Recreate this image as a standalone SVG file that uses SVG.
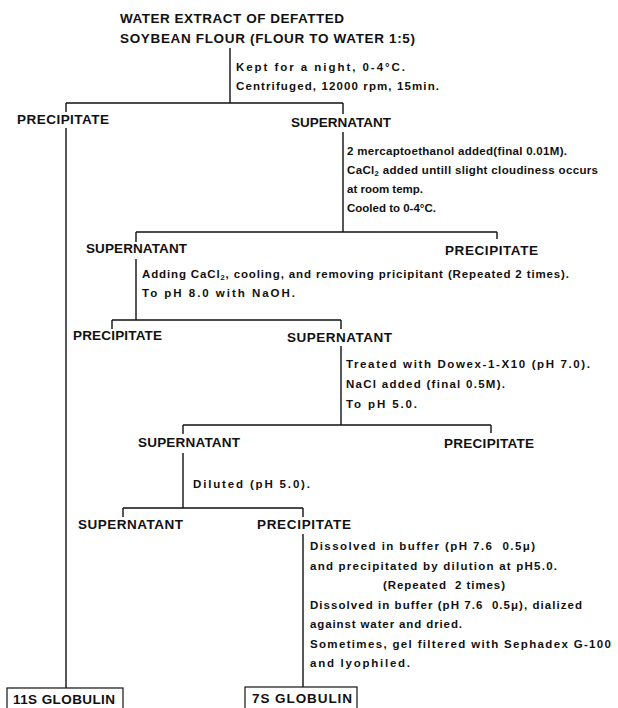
<svg xmlns="http://www.w3.org/2000/svg" width="618" height="708" viewBox="0 0 618 708">
<style>
.cap{font-family:"Liberation Sans",Arial,sans-serif;font-weight:bold;font-size:13.5px;fill:#111}
.note{font-family:"Liberation Sans",Arial,sans-serif;font-weight:bold;font-size:11.5px;fill:#111}
.ln{stroke:#111;stroke-width:1.4;fill:none}
.box{stroke:#111;stroke-width:1.2;fill:#fff}
</style>
<rect width="618" height="708" fill="#fff"/>
<g id="connectors" class="ln">
<path d="M230,48V103M66,103H343"/>
<path d="M66,103V112M66,128V688"/>
<path d="M343,103V114M343,132V232"/>
<path d="M136,232H497M136,232V242M497,232V239"/>
<path d="M136,259V320"/>
<path d="M112,320H341M112,320V329M341,320V329"/>
<path d="M341,346V425"/>
<path d="M183,425H491M183,425V434M491,425V433"/>
<path d="M183,453V508"/>
<path d="M123,508H303M123,508V517M303,508V517"/>
<path d="M303,534V687"/>
</g>
<g id="n-start">
<text class="cap" x="120" y="23" textLength="224">WATER EXTRACT OF DEFATTED</text>
<text class="cap" x="120" y="43" textLength="295">SOYBEAN FLOUR (FLOUR TO WATER 1:5)</text>
</g>
<g id="step1">
<text class="note" x="236" y="71" textLength="169">Kept for a night, 0-4°C.</text>
<text class="note" x="236" y="90" textLength="203">Centrifuged, 12000 rpm, 15min.</text>
</g>
<g id="n-prec1"><text class="cap" x="17" y="124" textLength="92">PRECIPITATE</text></g>
<g id="n-sup1"><text class="cap" x="291" y="127" textLength="100">SUPERNATANT</text></g>
<g id="step2">
<text class="note" x="347" y="155" textLength="220">2 mercaptoethanol added(final 0.01M).</text>
<text class="note" x="347" y="174" textLength="251">CaCl<tspan font-size="7.5" dy="2">2</tspan><tspan dy="-2"> added untill slight cloudiness occurs</tspan></text>
<text class="note" x="347" y="193">at room temp.</text>
<text class="note" x="347" y="212">Cooled to 0-4°C.</text>
</g>
<g id="n-sup2"><text class="cap" x="86" y="253" textLength="101">SUPERNATANT</text></g>
<g id="n-prec2"><text class="cap" x="445" y="255" textLength="93">PRECIPITATE</text></g>
<g id="step3">
<text class="note" x="142" y="278" textLength="427">Adding CaCl<tspan font-size="7.5" dy="2">2</tspan><tspan dy="-2">, cooling, and removing pricipitant (Repeated 2 times).</tspan></text>
<text class="note" x="142" y="297" textLength="153">To pH 8.0 with NaOH.</text>
</g>
<g id="n-prec3"><text class="cap" x="73" y="340" textLength="89">PRECIPITATE</text></g>
<g id="n-sup3"><text class="cap" x="287" y="342" textLength="105">SUPERNATANT</text></g>
<g id="step4">
<text class="note" x="346" y="368" textLength="244">Treated with Dowex-1-X10 (pH 7.0).</text>
<text class="note" x="346" y="388" textLength="159">NaCl added (final 0.5M).</text>
<text class="note" x="346" y="408" textLength="71">To pH 5.0.</text>
</g>
<g id="n-sup4"><text class="cap" x="138" y="447" textLength="102">SUPERNATANT</text></g>
<g id="n-prec4"><text class="cap" x="444" y="448" textLength="90">PRECIPITATE</text></g>
<g id="step5"><text class="note" x="193" y="488" textLength="117">Diluted (pH 5.0).</text></g>
<g id="n-sup5"><text class="cap" x="78" y="529" textLength="105">SUPERNATANT</text></g>
<g id="n-prec5"><text class="cap" x="257" y="529" textLength="94">PRECIPITATE</text></g>
<g id="step6">
<text class="note" x="310" y="550" textLength="225">Dissolved in buffer (pH 7.6&#160;&#160;0.5μ)</text>
<text class="note" x="310" y="569.5" textLength="247">and precipitated by dilution at pH5.0.</text>
<text class="note" x="383" y="589" textLength="122">(Repeated&#160;&#160;2 times)</text>
<text class="note" x="310" y="608.5" textLength="272">Dissolved in buffer (pH 7.6&#160;&#160;0.5μ), dialized</text>
<text class="note" x="310" y="628" textLength="152">against water and dried.</text>
<text class="note" x="310" y="647.5" textLength="301">Sometimes, gel filtered with Sephadex G-100</text>
<text class="note" x="310" y="667" textLength="100">and lyophiled.</text>
</g>
<g id="n-11s">
<rect class="box" x="7" y="688" width="116" height="24"/>
<text class="cap" x="13" y="704" textLength="102">11S GLOBULIN</text>
</g>
<g id="n-7s">
<rect class="box" x="245" y="687" width="112" height="25"/>
<text class="cap" x="252" y="703" textLength="100">7S GLOBULIN</text>
</g>
</svg>
